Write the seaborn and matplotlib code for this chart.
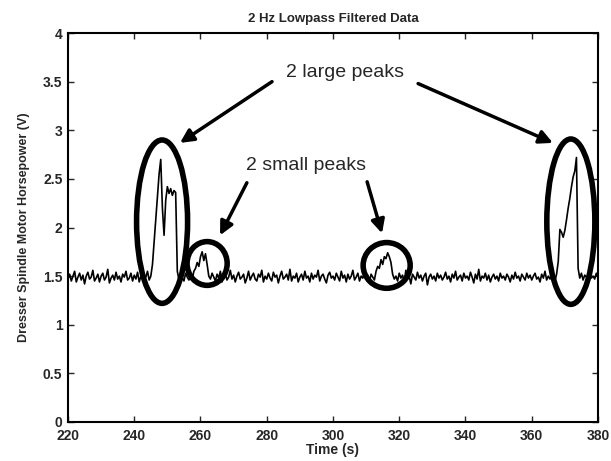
import numpy as np
import pandas as pd
import matplotlib
matplotlib.use("Agg")
import matplotlib.pyplot as plt
from matplotlib.patches import Ellipse
import seaborn as sns

t_start = 220.0
t_step = 0.5
signal = [
    # 220-229.5
    1.47,1.52,1.45,1.50,1.55,1.44,1.49,1.53,1.46,1.51,1.42,1.50,1.54,1.47,1.49,1.56,1.45,1.48,1.52,1.44,
    # 230-239.5
    1.50,1.53,1.46,1.49,1.57,1.43,1.48,1.51,1.46,1.54,1.47,1.50,1.44,1.52,1.49,1.55,1.46,1.48,1.53,1.45,
    # 240-249.5
    1.51,1.47,1.54,1.44,1.50,1.52,1.47,1.49,1.55,1.46,1.50,1.62,1.85,2.08,2.30,2.55,2.70,2.20,1.92,2.28,
    # 250-259.5
    2.42,2.35,2.40,2.33,2.38,2.36,1.55,1.46,1.52,1.48,1.45,1.53,1.49,1.46,1.51,1.47,1.55,1.58,1.64,1.60,
    # 260-269.5
    1.70,1.75,1.66,1.73,1.62,1.50,1.47,1.53,1.49,1.45,1.52,1.48,1.55,1.44,1.50,1.53,1.46,1.49,1.56,1.47,
    # 270-279.5
    1.51,1.44,1.50,1.54,1.47,1.49,1.52,1.43,1.48,1.55,1.46,1.50,1.53,1.47,1.45,1.52,1.49,1.56,1.44,1.50,
    # 280-289.5
    1.47,1.53,1.48,1.45,1.54,1.49,1.51,1.43,1.50,1.55,1.47,1.49,1.52,1.46,1.57,1.45,1.50,1.48,1.53,1.44,
    # 290-299.5
    1.49,1.52,1.46,1.55,1.48,1.50,1.44,1.53,1.47,1.51,1.49,1.56,1.45,1.50,1.52,1.47,1.43,1.51,1.54,1.48,
    # 300-309.5
    1.50,1.46,1.53,1.49,1.45,1.55,1.48,1.51,1.44,1.52,1.47,1.50,1.56,1.46,1.49,1.53,1.45,1.50,1.48,1.54,
    # 310-319.5
    1.47,1.51,1.44,1.52,1.49,1.46,1.55,1.60,1.58,1.67,1.62,1.70,1.68,1.74,1.70,1.64,1.52,1.47,1.50,1.45,
    # 320-329.5
    1.53,1.48,1.51,1.44,1.56,1.47,1.50,1.42,1.52,1.49,1.46,1.54,1.48,1.51,1.45,1.50,1.53,1.41,1.49,1.52,
    # 330-339.5
    1.47,1.50,1.45,1.53,1.48,1.51,1.46,1.49,1.54,1.47,1.50,1.44,1.52,1.48,1.55,1.46,1.49,1.51,1.45,1.53,
    # 340-349.5
    1.48,1.50,1.46,1.54,1.49,1.43,1.52,1.47,1.57,1.45,1.50,1.48,1.53,1.46,1.51,1.44,1.49,1.52,1.47,1.50,
    # 350-359.5
    1.45,1.53,1.48,1.50,1.46,1.52,1.49,1.44,1.51,1.47,1.54,1.48,1.50,1.45,1.52,1.49,1.46,1.53,1.48,1.51,
    # 360-369.5
    1.46,1.50,1.53,1.47,1.49,1.44,1.52,1.48,1.55,1.46,1.50,1.47,1.53,1.49,1.45,1.52,1.65,1.98,1.95,1.90,
    # 370-379.5
    1.97,2.08,2.20,2.30,2.42,2.52,2.58,2.72,1.58,1.48,1.53,1.46,1.51,1.49,1.45,1.52,1.48,1.50,1.47,1.53,
    # 380
    1.49,
]
time_s = t_start + t_step * np.arange(len(signal))

x_ticks = [220, 240, 260, 280, 300, 320, 340, 360, 380]
y_ticks = [0, 0.5, 1, 1.5, 2, 2.5, 3, 3.5, 4]
y_tick_labels = ["0", "0.5", "1", "1.5", "2", "2.5", "3", "3.5", "4"]

title = "2 Hz Lowpass Filtered Data"
x_label = "Time (s)"
y_label = "Dresser Spindle Motor Horsepower (V)"

# annotation marks: (center time, center value, width s, height V)
peak_marks = [
    (248.4, 2.06, 15.4, 1.68),
    (262.0, 1.63, 12.1, 0.45),
    (316.2, 1.61, 14.2, 0.47),
    (371.8, 2.06, 14.5, 1.70),
]
large_text = "2 large peaks"
small_text = "2 small peaks"

df = pd.DataFrame({"time": time_s, "value": signal})

sns.set_style("ticks")
plt.rcParams["font.family"] = ["Liberation Sans", "DejaVu Sans"]

fig = plt.figure(figsize=(6.11, 4.61), dpi=100)
ax = fig.add_axes([0.1113, 0.0846, 0.8674, 0.8438])

sns.lineplot(data=df, x="time", y="value", ax=ax, color="black", lw=1.2)

ax.set_xlim(220, 380)
ax.set_ylim(0, 4)
ax.set_xticks(x_ticks)
ax.set_xticklabels([str(v) for v in x_ticks])
ax.set_yticks(y_ticks)
ax.set_yticklabels(y_tick_labels)

for lab in ax.get_xticklabels() + ax.get_yticklabels():
    lab.set_fontweight("bold")
    lab.set_fontsize(10)

ax.tick_params(direction="in", length=4, width=1, top=True, right=True)
ax.tick_params(axis="x", pad=5)
ax.tick_params(axis="y", pad=4)
for s in ax.spines.values():
    s.set_visible(True)
    s.set_linewidth(1.5)
    s.set_color("black")

ax.set_title(title, fontsize=9.5, fontweight="bold", pad=8)
ax.set_xlabel(x_label, fontsize=10, fontweight="bold", labelpad=0)
ax.set_ylabel(y_label, fontsize=9, fontweight="bold", labelpad=9)

for (cx, cy, w, h) in peak_marks:
    ax.add_patch(Ellipse((cx, cy), w, h, fill=False, lw=4, ec="black"))

arrow_kw = dict(arrowstyle="-|>", lw=2.5, color="black", mutation_scale=20,
                shrinkA=0, shrinkB=0)
ax.text(303.6, 3.59, large_text, ha="center", va="center", fontsize=14)
ax.text(291.8, 2.64, small_text, ha="center", va="center", fontsize=14)
ax.annotate("", xy=(253.8, 2.87), xytext=(281.6, 3.50), arrowprops=arrow_kw)
ax.annotate("", xy=(366.4, 2.87), xytext=(325.7, 3.48), arrowprops=arrow_kw)
ax.annotate("", xy=(265.9, 1.92), xytext=(274.0, 2.46), arrowprops=arrow_kw)
ax.annotate("", xy=(314.8, 1.94), xytext=(310.3, 2.47), arrowprops=arrow_kw)

fig.savefig("out.png", dpi=100, facecolor="white")
